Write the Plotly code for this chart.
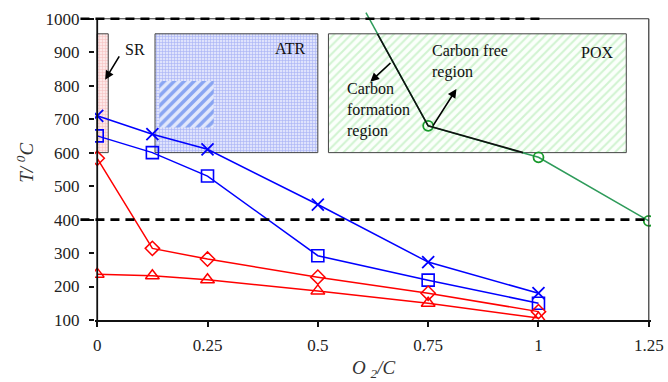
import plotly.graph_objects as go

# ---------------- data ----------------
o2c = [0, 0.125, 0.25, 0.5, 0.75, 1.0]
t_blue_x = [710, 655, 610, 445, 273, 180]
t_blue_sq = [650, 600, 530, 292, 219, 150]
t_red_dia = [583, 314, 282, 228, 180, 125]
t_red_tri = [237, 232, 220, 187, 150, 106]

o2c_green = [0.609, 0.75, 1.0, 1.25]
t_green = [1018, 680, 586, 396]

boundary_x = [0.635, 0.75, 0.965]
boundary_y = [955, 680, 600]

sr_x, sr_y = [0, 0.025], [600, 955]
atr_x, atr_y = [0.131, 0.5], [600, 955]
hatch_x, hatch_y = [0.141, 0.264], [675, 814]
pox_x, pox_y = [0.524, 1.199], [600, 955]

dash_levels = [1000, 400]
dash_ends = [1.01, 1.25]

x_ticks = [0, 0.25, 0.5, 0.75, 1.0, 1.25]
x_ticktext = ["0", "0.25", "0.5", "0.75", "1", "1.25"]
y_ticks = [100, 200, 300, 400, 500, 600, 700, 800, 900, 1000]

XR = [-0.005, 1.255]
YR = [100, 1050]
FONT = "Liberation Serif, Times New Roman, serif"

BLUE = "#0000ff"
RED = "#ff0000"
GREEN_LINE = "#2e9b5a"
GREEN_MK = "#17992a"


def rect(xs, ys):
    return [xs[0], xs[1], xs[1], xs[0], xs[0]], [ys[0], ys[0], ys[1], ys[1], ys[0]]


fig = go.Figure()

# region boxes
for xs, ys, pat, lw in [
    (sr_x, sr_y, dict(shape="+", fgcolor="#ee9a9a", bgcolor="#fde8e8", size=3, solidity=0.35), 1),
    (atr_x, atr_y, dict(shape="+", fgcolor="#6f7ff0", bgcolor="#dfe3fc", size=3, solidity=0.35), 1),
    (hatch_x, hatch_y, dict(shape="/", fgcolor="#2f62e8", bgcolor="#e2e8fc", size=7, solidity=0.5), 0),
    (pox_x, pox_y, dict(shape="/", fgcolor="#a8e8a8", bgcolor="#fbfffb", size=6, solidity=0.35), 1),
]:
    rx, ry = rect(xs, ys)
    fig.add_trace(go.Scatter(
        x=rx, y=ry, mode="lines", fill="toself",
        fillcolor=pat["bgcolor"], fillpattern=pat,
        line=dict(color="#444444", width=lw), hoverinfo="skip", showlegend=False))

# green POX curve
fig.add_trace(go.Scatter(
    x=o2c_green[1:], y=t_green[1:], mode="lines+markers",
    line=dict(color=GREEN_LINE, width=1.5),
    marker=dict(symbol="circle-open", size=10, color=GREEN_MK, line=dict(width=1.8)),
    showlegend=False))
fig.add_trace(go.Scatter(
    x=o2c_green[:2], y=t_green[:2], mode="lines",
    line=dict(color=GREEN_LINE, width=1.5), showlegend=False))

# carbon boundary
fig.add_trace(go.Scatter(
    x=boundary_x, y=boundary_y, mode="lines",
    line=dict(color="#111111", width=1.6), showlegend=False))

# data series
fig.add_trace(go.Scatter(
    x=o2c, y=t_blue_x, mode="lines+markers", line=dict(color=BLUE, width=1.5),
    marker=dict(symbol="x-thin-open", size=12, color=BLUE, line=dict(width=1.8, color=BLUE)),
    showlegend=False))
fig.add_trace(go.Scatter(
    x=o2c, y=t_blue_sq, mode="lines+markers", line=dict(color=BLUE, width=1.5),
    marker=dict(symbol="square-open", size=12, color=BLUE, line=dict(width=1.6)),
    showlegend=False))
fig.add_trace(go.Scatter(
    x=o2c, y=t_red_dia, mode="lines+markers", line=dict(color=RED, width=1.5),
    marker=dict(symbol="diamond-open", size=11, color=RED, line=dict(width=1.5)),
    showlegend=False))
fig.add_trace(go.Scatter(
    x=o2c, y=t_red_tri, mode="lines+markers", line=dict(color=RED, width=1.5),
    marker=dict(symbol="triangle-up-open", size=12, color=RED, line=dict(width=1.5)),
    showlegend=False))


def xpaper(v):
    return (v - XR[0]) / (XR[1] - XR[0])


shapes = []
# frame
shapes.append(dict(type="line", xref="x", yref="y", x0=0, x1=0, y0=100, y1=1000,
                   line=dict(color="#111111", width=1.8)))
shapes.append(dict(type="line", xref="x", yref="y", x0=1.25, x1=1.25, y0=100, y1=1000,
                   line=dict(color="#333333", width=1.2)))
shapes.append(dict(type="line", xref="x", yref="y", x0=0, x1=1.25, y0=1000, y1=1000,
                   line=dict(color="#333333", width=1.2)))
# dashed reference lines
for lv, xe in zip(dash_levels, dash_ends):
    shapes.append(dict(type="line", xref="paper", yref="y", x0=xpaper(-0.038), x1=xpaper(xe),
                       y0=lv, y1=lv, line=dict(color="#000000", width=2.6, dash="9px,6px")))

annotations = [
    dict(x=0.059, y=907, xref="x", yref="y", text="SR", showarrow=False, xanchor="left",
         font=dict(size=16, family=FONT, color="#111")),
    dict(x=0.478, y=910, xref="x", yref="y", text="ATR", showarrow=False, xanchor="right",
         font=dict(size=16, family=FONT, color="#111")),
    dict(x=1.174, y=898, xref="x", yref="y", text="POX", showarrow=False, xanchor="right",
         font=dict(size=16, family=FONT, color="#111")),
    dict(x=0.755, y=872, xref="x", yref="y", text="Carbon free<br>region", showarrow=False,
         xanchor="left", align="left", font=dict(size=16, family=FONT, color="#111")),
    dict(x=0.562, y=726, xref="x", yref="y", text="Carbon<br>formation<br>region", showarrow=False,
         xanchor="left", align="left", font=dict(size=16, family=FONT, color="#111")),
    # arrows
    dict(x=0.018, y=818, ax=0.052, ay=892, xref="x", yref="y", axref="x", ayref="y", text="",
         showarrow=True, arrowhead=2, arrowsize=1.1, arrowwidth=1.6, arrowcolor="#000"),
    dict(x=0.619, y=812, ax=0.668, ay=872, xref="x", yref="y", axref="x", ayref="y", text="",
         showarrow=True, arrowhead=2, arrowsize=1.1, arrowwidth=1.6, arrowcolor="#000"),
    dict(x=0.814, y=790, ax=0.759, ay=676, xref="x", yref="y", axref="x", ayref="y", text="",
         showarrow=True, arrowhead=2, arrowsize=1.1, arrowwidth=1.6, arrowcolor="#000"),
    # axis titles
    dict(x=0.501, y=-0.154, xref="paper", yref="paper", text="<i>O <sub>2</sub>/C</i>",
         xanchor="center", yanchor="middle",
         showarrow=False, font=dict(size=19, family=FONT, color="#333")),
    dict(x=-0.126, y=0.494, xref="paper", yref="paper", text="<i>T/ <sup>0</sup>C</i>",
         xanchor="center", yanchor="middle",
         showarrow=False, textangle=-90, font=dict(size=19, family=FONT, color="#333")),
]

fig.update_layout(
    width=668, height=382,
    margin=dict(l=95, r=17, t=2, b=62),
    paper_bgcolor="white", plot_bgcolor="white",
    shapes=shapes, annotations=annotations, showlegend=False,
    font=dict(family=FONT, size=17, color="#222"),
)
fig.update_xaxes(range=XR, tickvals=x_ticks, ticktext=x_ticktext, showgrid=False, zeroline=False,
                 showline=True, linecolor="#111111", linewidth=1.8, ticks="outside", ticklen=5,
                 tickwidth=1.5, tickcolor="#111", ticklabelstandoff=4,
                 tickfont=dict(size=17, family=FONT, color="#222"))
fig.update_yaxes(range=YR, tickvals=y_ticks, showgrid=False, zeroline=False, showline=False,
                 ticks="outside", ticklen=5, tickwidth=1.5, tickcolor="#111", ticklabelstandoff=6,
                 tickfont=dict(size=17, family=FONT, color="#222"))

fig.write_html("out.html", config={"displayModeBar": False},
               post_script="document.body.style.margin='0';document.body.style.overflow='hidden';")
